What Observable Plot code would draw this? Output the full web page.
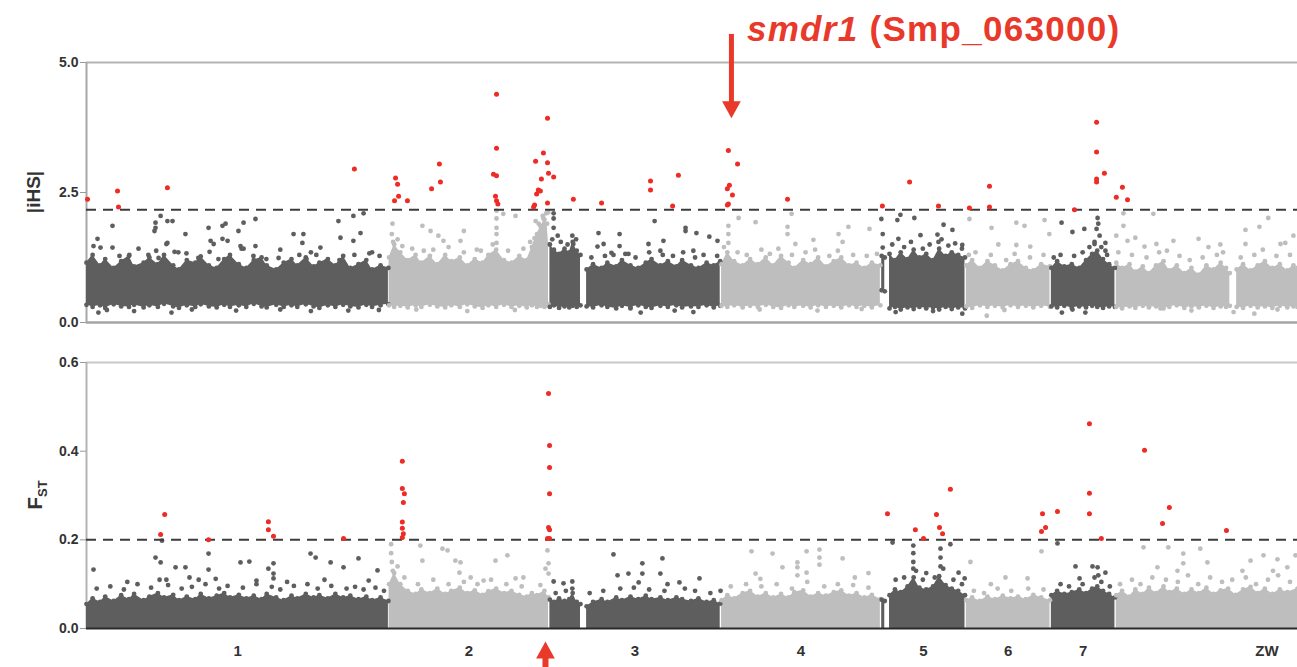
<!DOCTYPE html>
<html><head><meta charset="utf-8">
<script src="https://cdn.jsdelivr.net/npm/d3@7"></script>
<script src="https://cdn.jsdelivr.net/npm/@observablehq/plot@0.6"></script>
<style>
body{margin:0;overflow:hidden;background:#fff;font-family:"Liberation Sans",Arial,sans-serif;}
#wrap{position:relative;width:1297px;height:667px;overflow:hidden;}
#deco{position:absolute;left:12px;top:50px;width:2px;height:600px;background:#e4e4e4;}
#top,#bot{position:relative;}
</style></head><body><div id="wrap"><div id="deco"></div><div id="top"></div><div id="bot"></div></div>
<script>
// ---------- DATA ----------
const chromNames = ["1","2","3","4","5","6","7","ZW"];
const chromLengths = [88.9, 47.1, 50.6, 47.1, 24.9, 25.0, 19.1, 89.0]; // Mb
const ihsTicks = [0, 2.5, 5];
const fstTicks = [0, 0.2, 0.4, 0.6];
const ihsThreshold = 2.17;
const fstThreshold = 0.2;
const annotationGene = "smdr1";
const annotationId = " (Smp_063000)";
const annotationPos = 189.7;   // Mb, smdr1 locus (top arrow)
const fstArrowPos = 135.0;     // Mb, bottom arrow

// dense background band of |iHS|: [segment, position Mb, lower edge, upper edge]
const ihsBand = [
[0,0,0.34,1.15],[0,1.8,0.3,1.3],[0,4,0.33,1.1],[0,5.5,0.28,1.22],[0,8,0.35,1.05],[0,10.2,0.31,1.18],[0,12.5,0.3,1.28],[0,14,0.34,1.08],[0,16.8,0.29,1.15],[0,18.5,0.33,1.25],[0,21,0.3,1.12],[0,22.8,0.36,1.3],[0,25.5,0.31,1.1],[0,27.2,0.28,1.02],[0,29.5,0.33,1.2],[0,32,0.3,1.15],[0,33.6,0.35,1.27],[0,36,0.31,1.1],[0,38.3,0.29,1.05],[0,40.5,0.34,1.22],[0,42.2,0.3,1.3],[0,44.8,0.33,1.12],[0,47,0.3,1.05],[0,49.2,0.36,1.2],[0,51.5,0.31,1.25],[0,53,0.29,1.1],[0,55.8,0.34,1.02],[0,58,0.3,1.15],[0,60.3,0.33,1.22],[0,62,0.3,1.1],[0,64.5,0.35,1.25],[0,66.8,0.31,1.08],[0,68.5,0.28,1.15],[0,71,0.33,1.22],[0,73.2,0.3,1.1],[0,75.5,0.34,1.28],[0,77.6,0.31,1.05],[0,80,0.29,1.12],[0,82.3,0.34,1.2],[0,84,0.3,1.02],[0,86.5,0.33,1.1],[0,88.8,0.35,1.05],
[1,89.0,0.33,1.25],[1,90.5,0.3,1.5],[1,92.3,0.32,1.35],[1,94.5,0.29,1.2],[1,96.8,0.33,1.3],[1,98.5,0.3,1.15],[1,101,0.34,1.28],[1,103.2,0.31,1.12],[1,105.5,0.29,1.3],[1,107.3,0.33,1.18],[1,109.8,0.3,1.25],[1,112,0.35,1.1],[1,114.2,0.31,1.22],[1,116.5,0.28,1.15],[1,118.2,0.33,1.3],[1,120.5,0.3,1.4],[1,122.8,0.34,1.2],[1,125,0.3,1.15],[1,127.3,0.32,1.28],[1,129.5,0.29,1.2],[1,131,0.33,1.45],[1,132.5,0.3,1.7],[1,133.6,0.32,1.85],[1,134.7,0.3,1.98],[1,135.5,0.33,1.9],[1,135.9,0.35,1.5],
[2,136.3,0.3,1.5],[2,137.5,0.33,1.4],[2,139,0.28,1.32],[2,140.6,0.31,1.42],[2,142,0.29,1.35],[2,143,0.32,1.55],[2,144.2,0.3,1.38],[2,145.3,0.33,1.3],
[3,147.1,0.31,1.02],[3,149,0.29,1.12],[3,151.5,0.33,1.05],[3,153.2,0.3,1.15],[3,155.8,0.27,1.08],[3,157.5,0.32,1.2],[3,160,0.29,1.1],[3,162.3,0.33,1.05],[3,164.5,0.3,1.15],[3,166.2,0.28,1.22],[3,168.8,0.32,1.1],[3,171,0.3,1.18],[3,173.5,0.33,1.08],[3,175.2,0.29,1.2],[3,177.8,0.31,1.1],[3,180,0.3,1.05],[3,182.4,0.33,1.15],[3,184.5,0.29,1.1],[3,186.4,0.32,1.18],
[4,186.8,0.32,1.12],[4,188.5,0.3,1.35],[4,190.5,0.33,1.18],[4,193,0.29,1.1],[4,195.2,0.32,1.22],[4,197.5,0.3,1.12],[4,199.8,0.34,1.25],[4,202,0.3,1.1],[4,204.3,0.28,1.28],[4,206.5,0.33,1.15],[4,208.2,0.3,1.05],[4,210.8,0.32,1.2],[4,213,0.29,1.12],[4,215.2,0.33,1.25],[4,217.5,0.3,1.08],[4,219.8,0.32,1.18],[4,222,0.29,1.25],[4,224.3,0.33,1.1],[4,226.5,0.3,1.15],[4,228.8,0.32,1.05],[4,231,0.29,1.15],[4,233.5,0.33,1.1],
[5,233.9,0.62,1.28],[5,234.8,0.6,1.25],
[6,236.2,0.27,1.32],[6,237.8,0.3,1.2],[6,239.5,0.25,1.35],[6,241.5,0.29,1.22],[6,243.3,0.26,1.4],[6,245,0.3,1.25],[6,247,0.27,1.32],[6,249,0.29,1.2],[6,250.8,0.25,1.42],[6,252.7,0.3,1.28],[6,254.5,0.26,1.35],[6,256.4,0.29,1.3],[6,258.4,0.27,1.25],
[7,258.8,0.31,1.1],[7,260.5,0.28,1.2],[7,262.8,0.33,1.05],[7,265,0.3,1.18],[7,267.2,0.32,1.1],[7,269.5,0.29,1.0],[7,271.8,0.33,1.12],[7,274,0.3,1.18],[7,276.3,0.32,1.05],[7,278.5,0.29,1.0],[7,280.8,0.32,1.12],[7,283.4,0.3,1.08],
[8,283.8,0.31,1.05],[8,285.5,0.29,1.18],[8,287.6,0.32,1.08],[8,289.8,0.28,1.12],[8,292,0.31,1.05],[8,294,0.29,1.2],[8,295.8,0.32,1.32],[8,297.3,0.3,1.38],[8,299,0.28,1.22],[8,300.8,0.31,1.12],[8,302.5,0.3,1.05],
[9,302.9,0.3,1.15],[9,304.6,0.27,1.05],[9,306.8,0.31,1.12],[9,308.5,0.28,0.98],[9,310.7,0.32,1.08],[9,312.5,0.29,0.95],[9,314.6,0.31,1.1],[9,316.8,0.27,1.18],[9,318.5,0.3,1.0],[9,320.7,0.33,1.1],[9,322.9,0.28,0.95],[9,325,0.31,1.05],[9,327.2,0.29,0.92],[9,329.4,0.32,1.1],[9,331.5,0.28,1.02],[9,333.6,0.31,1.15],[9,335.2,0.3,1.05],[9,336.3,0.32,0.95],
[10,338.3,0.3,1.02],[10,340.2,0.28,1.12],[10,342.4,0.32,1.0],[10,344.5,0.29,1.1],[10,346.6,0.31,1.18],[10,348.8,0.28,1.05],[10,351,0.32,1.12],[10,353.2,0.29,1.0],[10,355,0.31,1.1],[10,356.2,0.3,1.05]
];
// |iHS| SNPs just above the dense band: [position Mb, value]
const ihsFringe = [
[9.7,1.28],[12.6,1.3],[15.3,1.42],[18.2,1.3],[21.2,1.24],[23.5,1.51],[25.9,1.36],[29.4,1.33],[32.9,1.24],[36.2,1.36],[38.8,1.22],[42.1,1.24],[45.6,1.42],[49.1,1.28],[52.9,1.22],[56.5,1.24],[62.6,1.3],[64.7,1.22],[67.6,1.3],[70.6,1.18],[74.4,1.2],[78.8,1.3],[83.2,1.33],[86.2,1.28],
[91.5,1.6],[95.8,1.42],[99.2,1.38],[102,1.4],[106.5,1.45],[111,1.35],[114.8,1.4],[119.5,1.5],[124,1.38],[128.5,1.42],[130.5,1.55],[131.8,1.62],[133,1.9],[134.2,2.05],[135.2,2.1],[135.8,2.12],
[137,1.6],[139.5,1.55],[141.5,1.5],[144,1.6],
[148.5,1.25],[152.5,1.28],[155,1.3],[158.5,1.32],[161.5,1.25],[165.5,1.35],[169.5,1.3],[172.5,1.28],[175.5,1.35],[179,1.25],[181.5,1.3],[185.5,1.28],
[187.5,1.45],[191.5,1.35],[194.2,1.3],[198.5,1.4],[201,1.32],[203.5,1.42],[207.5,1.3],[211.5,1.35],[214.3,1.4],[218.5,1.28],[221,1.38],[225.5,1.3],[229.5,1.28],[232.5,1.32],
[237,1.5],[240.5,1.45],[242.5,1.55],[246,1.42],[248,1.5],[251.5,1.6],[253.5,1.48],[255.5,1.52],[257.5,1.42],
[259.5,1.3],[261.5,1.35],[266,1.3],[270.5,1.2],[273,1.32],[277.5,1.25],[281.5,1.3],
[284.5,1.25],[286.5,1.3],[290.5,1.28],[293,1.35],[295,1.45],[296.5,1.55],[298.5,1.45],[300.2,1.3],
[303.5,1.35],[307.5,1.3],[311.8,1.25],[315.5,1.35],[317.8,1.38],[321.5,1.28],[324.5,1.2],[328.3,1.25],[332.5,1.3],[334.3,1.35],[339.5,1.25],[343.5,1.3],[346,1.4],[350,1.28],[354,1.3]
];
// scattered |iHS| SNPs below threshold: [position Mb, value]
const ihsScatter = [
[3.24,1.61],[2.06,1.47],[4.12,1.44],[7.65,1.86],[7.65,1.44],[20.3,1.92],[20.3,1.82],[20.0,1.76],[21.8,2.05],[23.8,1.95],[25.3,1.95],[23.8,1.53],[29.1,1.7],[35.9,1.82],[36.5,1.57],[37.4,1.51],[40,1.86],[40.9,1.9],[40,1.61],[41.5,1.57],[44.7,1.76],[46.2,1.92],[49.7,1.99],[49.7,1.47],[45.3,1.47],[46.2,1.42],[60.9,1.7],[63.8,1.7],[63.5,1.53],[68.8,1.44],[74.1,1.95],[74.7,1.63],[78.5,2.05],[78.5,1.57],[80.6,1.72],[81.5,2.1],[20.5,1.38],[27,1.35],[3.5,0.19],[77,0.23],[25,0.19],[57,1.4],[66,1.35],[84,1.35],
[6,0.24],[14,0.22],[31,0.25],[44,0.23],[57,0.25],[66,0.22],[86,0.24],
[90.0,1.9],[89.8,1.7],[90.2,1.55],[92.9,1.47],[98.8,1.86],[101.2,1.76],[103.5,1.67],[105,1.57],[110,1.57],[111,1.76],[116,1.38],[120.6,1.82],[120.6,1.7],[120.6,1.53],[120.6,2.0],[120.6,2.15],[122.6,2.09],[126.2,2.05],[132.1,1.95],[133.5,1.86],[132.9,1.7],[134.4,2.0],[97,0.25],[112,0.22],[126,0.24],
[137.4,2.1],[137.4,2.0],[137.4,1.82],[138.6,1.67],[142.9,1.67],[143.2,1.51],[150.6,1.72],[150.3,1.46],[152.1,1.51],[154.4,1.34],[156.8,1.7],[156.8,1.47],[159.4,1.32],[165.3,1.51],[167.1,1.95],[169.7,1.57],[168.8,1.38],[176.2,1.82],[176.2,1.76],[179.4,1.72],[178.5,1.38],[183.2,1.65],[185.6,1.57],[160,0.27],[163,0.19],[173,0.23],[178.5,0.2],
[188.8,1.86],[188.8,1.7],[188.8,1.53],[191.8,2.01],[196.8,1.93],[206.2,1.84],[206.2,1.7],[207.4,2.09],[208.5,1.51],[213.8,1.59],[221.2,1.7],[222.4,1.55],[224.1,1.84],[230.3,1.8],[198,0.25],[215,0.23],[228,0.26],
[233.8,1.99],[234.2,1.7],[234.2,1.44],[238.5,1.97],[239.4,2.07],[243.5,2.01],[238.8,1.61],[245.3,1.68],[252.1,1.88],[254.7,1.78],[250.3,1.69],[250.6,1.55],[257.6,1.49],[257.6,0.17],[238,0.2],[249,0.22],
[259.7,1.99],[266.2,1.82],[268.2,1.5],[273.5,1.92],[275.9,1.86],[273.5,1.49],[277.6,1.46],[281.8,1.97],[283.2,1.7],[264.8,0.13],[270,0.24],
[286.8,1.92],[290,1.74],[293.5,1.8],[297.4,2.01],[297.6,1.9],[297.1,1.8],[298,1.67],[296.5,1.51],[299.7,1.53],[299.7,1.38],[286.9,0.19],[293.8,0.19],[290,0.25],
[305,2.1],[305,1.86],[302.9,1.67],[306.2,1.57],[308.5,1.63],[311.2,1.46],[314.7,1.51],[319.7,1.57],[327.1,1.61],[313.8,2.09],[330,1.45],[333.5,1.5],[340.9,1.78],[345,1.84],[347.6,2.01],[340.9,1.51],[351.2,1.51],[352.6,1.53],[355,1.67],[315.9,0.27],[337.4,0.2],[343.5,0.17],[350.3,0.25],[325,0.23]
];
// |iHS| SNPs above threshold
const ihsSignificant = [
[0.3,2.37],[9.12,2.53],[9.41,2.22],[23.8,2.59],[78.8,2.95],
[90.6,2.34],[90.9,2.78],[91.5,2.66],[91.8,2.43],[94.4,2.34],[101.5,2.57],[103.8,3.05],[104.1,2.7],[120.6,4.39],[120.6,3.35],[119.7,2.85],[120.6,2.82],[120.3,2.43],[120.6,2.34],[121,2.28],[131.8,2.26],[131.5,2.22],[132.4,2.47],[132.9,2.55],[133.5,2.53],[133.8,2.76],[132.1,3.1],[134.4,3.26],[135.6,3.93],[135.6,3.07],[135.9,2.87],[137.4,2.8],[135.6,2.3],
[143.2,2.37],[151.5,2.3],[165.9,2.72],[165.9,2.55],[174.1,2.83],[172.4,2.24],
[188.8,3.31],[191.5,3.05],[189.1,2.64],[188.5,2.57],[190,2.45],[188.8,2.28],[188.5,2.26],[206.2,2.37],
[234.1,2.24],[242.1,2.7],[250.6,2.24],[259.7,2.2],[265.6,2.62],[265.6,2.22],[290.6,2.17],[297.1,3.85],[297.1,3.28],[299.4,2.87],[297.1,2.76],[297.1,2.7],[304.7,2.6],[302.9,2.41],[306.2,2.36]
];

// dense background band of FST: [segment, position Mb, upper edge]
const fstBand = [
[0,0,0.055],[0,1.8,0.068],[0,4,0.06],[0,5.5,0.072],[0,8,0.062],[0,10.2,0.075],[0,12.5,0.066],[0,14,0.078],[0,16.8,0.064],[0,18.5,0.072],[0,21,0.08],[0,22.8,0.07],[0,25.5,0.076],[0,27.2,0.064],[0,29.5,0.072],[0,32,0.066],[0,33.6,0.078],[0,36,0.068],[0,38.3,0.074],[0,40.5,0.08],[0,42.2,0.07],[0,44.8,0.076],[0,47,0.068],[0,49.2,0.074],[0,51.5,0.066],[0,53,0.078],[0,55.8,0.07],[0,58,0.064],[0,60.3,0.074],[0,62,0.068],[0,64.5,0.078],[0,66.8,0.07],[0,68.5,0.075],[0,71,0.068],[0,73.2,0.078],[0,75.5,0.07],[0,77.6,0.074],[0,80,0.066],[0,82.3,0.072],[0,84,0.064],[0,86.5,0.07],[0,88.8,0.062],
[1,89.0,0.1],[1,90.5,0.125],[1,92.3,0.1],[1,94.5,0.085],[1,96.8,0.078],[1,98.5,0.088],[1,101,0.08],[1,103.2,0.09],[1,105.5,0.078],[1,107.3,0.085],[1,109.8,0.092],[1,112,0.08],[1,114.2,0.086],[1,116.5,0.076],[1,118.2,0.084],[1,120.5,0.09],[1,122.8,0.08],[1,125,0.085],[1,127.3,0.076],[1,129.5,0.072],[1,131,0.08],[1,132.5,0.075],[1,134.7,0.085],[1,135.9,0.07],
[2,136.3,0.065],[2,137.5,0.06],[2,139,0.068],[2,140.6,0.062],[2,142,0.066],[2,143,0.08],[2,144.2,0.06],[2,145.3,0.055],
[3,147.1,0.05],[3,149,0.06],[3,151.5,0.066],[3,153.2,0.06],[3,155.8,0.07],[3,157.5,0.064],[3,160,0.072],[3,162.3,0.066],[3,164.5,0.074],[3,166.2,0.066],[3,168.8,0.07],[3,171,0.064],[3,173.5,0.07],[3,175.2,0.066],[3,177.8,0.062],[3,180,0.068],[3,182.4,0.06],[3,184.5,0.064],[3,186.4,0.056],
[4,186.8,0.064],[4,188.5,0.075],[4,190.5,0.068],[4,193,0.08],[4,195.2,0.085],[4,197.5,0.072],[4,199.8,0.08],[4,202,0.07],[4,204.3,0.078],[4,206.5,0.07],[4,208.2,0.082],[4,210.8,0.086],[4,213,0.072],[4,215.2,0.08],[4,217.5,0.074],[4,219.8,0.082],[4,222,0.086],[4,224.3,0.074],[4,226.5,0.08],[4,228.8,0.07],[4,231,0.076],[4,233.5,0.066],
[5,233.9,0.065],[5,234.8,0.062],
[6,236.2,0.075],[6,237.8,0.088],[6,239.5,0.082],[6,241.5,0.095],[6,243.3,0.115],[6,245,0.092],[6,247,0.088],[6,249,0.095],[6,250.8,0.118],[6,252.7,0.098],[6,254.5,0.09],[6,256.4,0.085],[6,258.4,0.075],
[7,258.8,0.064],[7,260.5,0.07],[7,262.8,0.062],[7,265,0.072],[7,267.2,0.066],[7,269.5,0.074],[7,271.8,0.068],[7,274,0.072],[7,276.3,0.066],[7,278.5,0.076],[7,280.8,0.07],[7,283.4,0.064],
[8,283.8,0.075],[8,285.5,0.085],[8,287.6,0.078],[8,289.8,0.082],[8,292,0.088],[8,294,0.08],[8,295.8,0.09],[8,297.3,0.095],[8,299,0.085],[8,300.8,0.078],[8,302.5,0.07],
[9,302.9,0.075],[9,304.6,0.085],[9,306.8,0.072],[9,308.5,0.088],[9,310.7,0.078],[9,312.5,0.092],[9,314.6,0.08],[9,316.8,0.095],[9,318.5,0.082],[9,320.7,0.09],[9,322.9,0.078],[9,325,0.088],[9,327.2,0.08],[9,329.4,0.092],[9,331.5,0.078],[9,333.6,0.086],[9,335.8,0.09],[9,338,0.076],[9,340.2,0.088],[9,342.4,0.094],[9,344.5,0.08],[9,346.6,0.09],[9,348.8,0.078],[9,351,0.088],[9,353.2,0.082],[9,356.2,0.09]
];
const fstFringe = [
[3,0.09],[7,0.095],[11,0.088],[15,0.1],[19,0.092],[24,0.098],[28,0.09],[31,0.094],[35,0.1],[39,0.09],[41.5,0.096],[46,0.092],[50,0.1],[54.5,0.094],[57,0.088],[61,0.096],[65,0.1],[68,0.09],[72,0.096],[76.5,0.09],[79,0.094],[81.5,0.088],[85,0.092],[87.5,0.085],
[91.5,0.14],[93.5,0.115],[97.5,0.1],[102,0.11],[106.5,0.1],[111,0.105],[115,0.1],[119,0.11],[123.5,0.1],[128,0.095],[133.5,0.098],
[138,0.08],[141,0.085],[148,0.08],[152,0.085],[157,0.09],[161,0.092],[165.5,0.088],[170,0.085],[176,0.09],[179,0.085],[183.5,0.08],
[189.5,0.095],[194,0.1],[198.5,0.095],[203,0.1],[207.5,0.09],[212,0.105],[217,0.095],[221,0.1],[225.5,0.098],[230,0.092],
[238,0.11],[240.5,0.115],[244,0.13],[246,0.11],[249.5,0.115],[252,0.135],[255,0.11],[257.5,0.1],
[261,0.085],[264,0.08],[268,0.09],[272,0.085],[277,0.09],[281.5,0.088],
[286.5,0.1],[289,0.095],[293,0.1],[296.5,0.115],[298.5,0.105],[301,0.095],
[304,0.1],[307.5,0.11],[310,0.1],[313.5,0.115],[317.5,0.11],[321,0.105],[324,0.12],[327,0.1],[330.5,0.115],[334,0.105],[337,0.11],[341,0.115],[344,0.1],[347.5,0.11],[350.5,0.12],[354,0.105]
];
const fstScatter = [
[2.06,0.133],[20.3,0.16],[21.8,0.149],[21.5,0.11],[23.5,0.11],[26.2,0.138],[29.1,0.138],[30.3,0.115],[35.9,0.169],[35.9,0.133],[45.3,0.149],[47.9,0.151],[53.5,0.135],[55,0.147],[55,0.124],[55,0.113],[65.9,0.169],[67.4,0.16],[71.8,0.149],[75.6,0.138],[80,0.158],[85.6,0.131],[12,0.105],[33,0.11],[38,0.112],[50,0.108],[59,0.105],[70,0.11],[83,0.108],[22.2,0.198],
[89.6,0.19],[89.6,0.17],[89.8,0.15],[90.1,0.13],[98.2,0.187],[98.8,0.153],[104.7,0.18],[106.2,0.176],[108.5,0.153],[110,0.149],[109.7,0.126],[116.8,0.108],[120.3,0.153],[123.8,0.165],[126.2,0.113],[128.5,0.115],[135.6,0.176],[135.9,0.147],[135,0.135],[135.9,0.124],[113,0.115],
[137.4,0.106],[140.3,0.102],[142.9,0.106],[142.9,0.09],[155,0.167],[156.2,0.12],[159.4,0.124],[162.4,0.104],[163.5,0.147],[163.5,0.124],[169.4,0.158],[168.8,0.124],[170.9,0.1],[174.4,0.104],[180.3,0.113],[186.5,0.085],
[195.6,0.174],[201.8,0.169],[204.7,0.138],[209.1,0.149],[209.1,0.138],[209.1,0.12],[211.8,0.174],[211.8,0.126],[215.6,0.178],[215.6,0.16],[215.6,0.144],[222.4,0.158],[196.8,0.124],[198.2,0.112],[226,0.115],[230,0.125],
[237.1,0.194],[243.2,0.187],[243.2,0.17],[243.2,0.15],[243.2,0.135],[251.2,0.18],[251.2,0.16],[251.2,0.14],[254.1,0.19],[256.5,0.126],[258.3,0.113],[247,0.125],
[270.3,0.115],[276.8,0.113],[280.9,0.174],[260,0.15],[266,0.1],
[285.6,0.192],[290.9,0.14],[295.9,0.14],[297.4,0.138],[299.7,0.126],[292.1,0.113],[297.6,0.12],
[310.9,0.183],[318.2,0.183],[322.6,0.169],[322.6,0.147],[327.6,0.18],[329.7,0.149],[342.4,0.153],[346.2,0.165],[350.3,0.156],[353.2,0.138],[355.6,0.165],[315,0.138],[320.9,0.13],[340,0.13],[349,0.13]
];
const fstSignificant = [
[21.8,0.212],[23,0.257],[35.9,0.2],[53.5,0.241],[53.5,0.223],[55,0.208],[75.6,0.203],
[92.9,0.377],[92.9,0.316],[93.5,0.304],[93.2,0.284],[92.9,0.24],[92.9,0.226],[93.2,0.214],[92.9,0.205],
[135.9,0.53],[136.2,0.413],[136.2,0.363],[136.2,0.304],[135.9,0.228],[136.2,0.223],[135.6,0.203],[136.2,0.203],
[235.6,0.259],[243.8,0.223],[246.2,0.203],[250,0.257],[250.9,0.228],[251.8,0.214],[254.1,0.314],
[281.2,0.259],[280.9,0.219],[282.1,0.228],[285.6,0.264],
[295,0.462],[295,0.305],[295,0.259],[298.5,0.203],
[311.2,0.402],[318.5,0.273],[316.5,0.237],[335.3,0.221]
];

// ---------- HELPERS ----------
const FONT = '"Liberation Sans", Arial, Helvetica, sans-serif';
const DARK = "#5e5e5e", LIGHT = "#bebebe", RED = "#ee2b24", ARED = "#e8392b";
const chromStart = chromLengths.map((d, i) => d3.sum(chromLengths.slice(0, i)));
const chromCenters = chromNames.map((n, i) => ({name: n, pos: chromStart[i] + chromLengths[i] / 2}));
const chromIndex = p => { let k = 0; chromStart.forEach((s, i) => { if (p >= s) k = i; }); return k; };
const shade = p => chromIndex(p) % 2 === 0 ? DARK : LIGHT;
const xDomain = [0, 356.2];
function bandRows(band) {
  const first = {};
  band.forEach(r => { if (!(r[0] in first)) first[r[0]] = r[1]; });
  return band.map(r => r.length === 4
    ? {seg: r[0], pos: r[1], lo: r[2], hi: r[3], c: shade(first[r[0]])}
    : {seg: r[0], pos: r[1], lo: 0, hi: r[2], c: shade(first[r[0]])});
}
const arrowDown = {draw(ctx, size) { const s = Math.sqrt(size); ctx.moveTo(-s*0.55, -s*0.45); ctx.lineTo(s*0.55, -s*0.45); ctx.lineTo(0, s*0.55); ctx.closePath(); }};
const arrowUp = {draw(ctx, size) { const s = Math.sqrt(size); ctx.moveTo(-s*0.55, s*0.45); ctx.lineTo(s*0.55, s*0.45); ctx.lineTo(0, -s*0.55); ctx.closePath(); }};
const R = 2.4;
const style = {fontFamily: FONT, fontSize: "14px", fontWeight: "bold", color: "#333", background: "#fff"};
const pts = (data, r) => Plot.dot(data, {x: d => d[0], y: d => d[1], r, fill: d => shade(d[0])});

// ---------- TOP PANEL (|iHS|) ----------
const ihsRows = bandRows(ihsBand);
const topPlot = Plot.plot({
  width: 1297, height: 340, marginTop: 62, marginBottom: 18, marginLeft: 86, marginRight: 0,
  x: {domain: xDomain, axis: null},
  y: {domain: [0, 5], axis: null},
  style,
  marks: [
    Plot.ruleY([5], {stroke: "#b4b4b4", strokeWidth: 2}),
    Plot.ruleY([0], {stroke: "#a4a4a4", strokeWidth: 2.5}),
    Plot.ruleX([0], {stroke: "#a8a8a8", strokeWidth: 2}),
    Plot.axisY({ticks: ihsTicks, tickFormat: d3.format(".1f"), tickSize: 6, tickPadding: 2, stroke: "#999", label: null}),
    Plot.areaY(ihsRows, {x: "pos", y1: "lo", y2: "hi", z: "seg", fill: "c"}),
    Plot.dot(ihsRows, {x: "pos", y: "hi", r: R, fill: "c"}),
    Plot.dot(ihsRows, {x: "pos", y: "lo", r: R, fill: "c"}),
    pts(ihsFringe, R),
    pts(ihsScatter, R),
    Plot.ruleY([ihsThreshold], {stroke: "#3c3c3c", strokeWidth: 2, strokeDasharray: "10,7"}),
    Plot.dot(ihsSignificant, {x: d => d[0], y: d => d[1], r: 2.5, fill: RED}),
    Plot.ruleX([annotationPos], {y1: 5.54, y2: 4.2, stroke: ARED, strokeWidth: 5}),
    Plot.dot([annotationPos], {x: d => d, y: 4.106, symbol: arrowDown, r: 9.6, fill: ARED})
  ]
});
document.getElementById("top").appendChild(topPlot);
{
  const sx = topPlot.scale("x"), sy = topPlot.scale("y");
  const svg = d3.select(topPlot);
  const t = svg.append("text").attr("x", sx.apply(annotationPos) + 16).attr("y", sy.apply(5.4))
    .attr("text-anchor", "start").attr("fill", ARED).attr("font-size", 35).attr("font-weight", "bold")
    .attr("font-family", FONT).attr("letter-spacing", 1.3);
  t.append("tspan").attr("font-style", "italic").text(annotationGene);
  t.append("tspan").text(annotationId);
  svg.append("text").attr("transform", `translate(40,${sy.apply(2.5)}) rotate(-90)`).attr("text-anchor", "middle")
    .attr("font-size", 19).attr("font-weight", "bold").attr("fill", "#333").attr("font-family", FONT).text("|iHS|");
}

// ---------- BOTTOM PANEL (FST) ----------
const fstRows = bandRows(fstBand);
const botPlot = Plot.plot({
  width: 1297, height: 327, marginTop: 22, marginBottom: 39, marginLeft: 86, marginRight: 0,
  x: {domain: xDomain, axis: null},
  y: {domain: [0, 0.6], axis: null},
  style,
  marks: [
    Plot.ruleY([0.6], {stroke: "#c8c8c8", strokeWidth: 2}),
    Plot.ruleX([0], {stroke: "#b4b4b4", strokeWidth: 2}),
    Plot.axisY({ticks: fstTicks, tickFormat: d3.format(".1f"), tickSize: 6, tickPadding: 2, stroke: "#999", label: null}),
    Plot.areaY(fstRows, {x: "pos", y1: "lo", y2: "hi", z: "seg", fill: "c"}),
    Plot.dot(fstRows, {x: "pos", y: "hi", r: R, fill: "c"}),
    pts(fstFringe, R),
    pts(fstScatter, R),
    Plot.ruleY([0], {stroke: "#2a2a2a", strokeWidth: 2}),
    Plot.ruleY([fstThreshold], {stroke: "#3c3c3c", strokeWidth: 2, strokeDasharray: "10,7"}),
    Plot.dot(fstSignificant, {x: d => d[0], y: d => d[1], r: 2.5, fill: RED}),
    Plot.text(chromCenters, {x: "pos", text: "name", frameAnchor: "bottom", dy: 27, fontSize: 15, fontWeight: "bold", fill: "#333"}),
    Plot.ruleX([fstArrowPos], {y1: -0.06, y2: -0.09, stroke: ARED, strokeWidth: 6}),
    Plot.dot([fstArrowPos], {x: d => d, y: -0.0504, symbol: arrowUp, r: 9.6, fill: ARED})
  ]
});
document.getElementById("bot").appendChild(botPlot);
{
  const sy = botPlot.scale("y");
  const svg = d3.select(botPlot);
  const t = svg.append("text").attr("transform", `translate(42,${sy.apply(0.3)}) rotate(-90)`).attr("text-anchor", "middle")
    .attr("font-weight", "bold").attr("fill", "#333").attr("font-family", FONT);
  t.append("tspan").attr("font-size", 21).text("F");
  t.append("tspan").attr("font-size", 13).attr("dy", 5).text("ST");
}
</script></body></html>
